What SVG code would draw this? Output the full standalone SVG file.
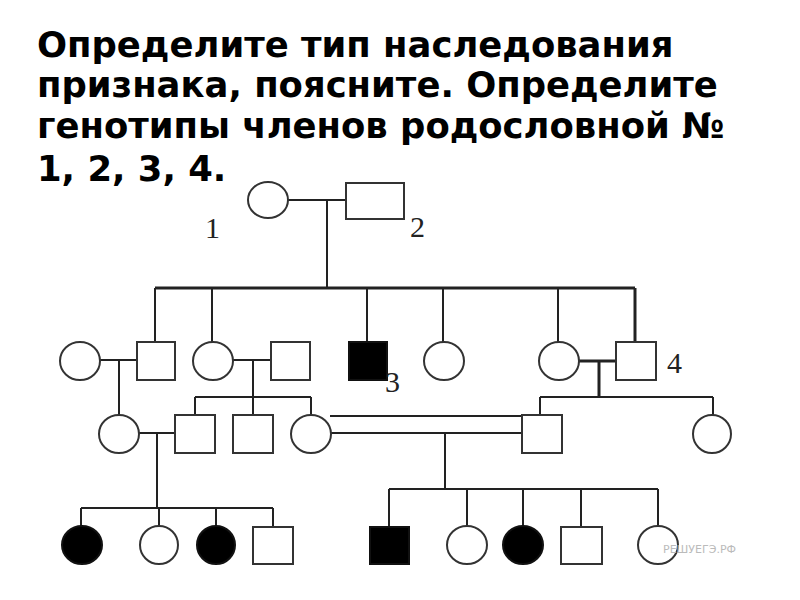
<svg xmlns="http://www.w3.org/2000/svg" width="800" height="600" viewBox="0 0 800 600">
<style>
.title{font-family:"DejaVu Sans",sans-serif;font-weight:bold;font-size:35.4px;fill:#000}
.lbl{font-family:"Liberation Serif",serif;font-size:30px;fill:#222}
.wm{font-family:"DejaVu Sans",sans-serif;font-size:11px;fill:#bbb}
.ln{stroke:#222;stroke-width:2;fill:none}
.thk{stroke:#222;stroke-width:3;fill:none}
.f{fill:#fff;stroke:#333;stroke-width:2}
.a{fill:#000;stroke:#111;stroke-width:2}
</style>
<rect width="800" height="600" fill="#fff"/>
<g id="title">
<text class="title" x="37" y="57">Определите тип наследования</text>
<text class="title" x="37" y="97">признака, поясните. Определите</text>
<text class="title" x="37" y="138">генотипы членов родословной №</text>
<text class="title" x="37" y="181">1, 2, 3, 4.</text>
</g>
<g id="connectors">
<path class="ln" d="M288 200H346M327 200V288"/>
<path class="thk" d="M155 288H635"/>
<path class="ln" d="M155 288V342M212 288V342M367 288V342M443 288V342M558 288V342"/>
<path class="thk" d="M635 288V342"/>
<path class="ln" d="M100 360H137M119 360V415"/>
<path class="ln" d="M233 360H271M253 360V397M195 397H311M195 397V415M253 397V415M311 397V415"/>
<path class="thk" d="M579 361H616M599 361V397"/>
<path class="ln" d="M540 397H713M540 397V415M713 397V415"/>
<path class="ln" d="M139 433H175M157 433V508M81 508H273M81 508V527M159 508V527M216 508V527M273 508V527"/>
<path class="ln" d="M330 416H522M331 433H522M445 433V489"/>
<path class="ln" d="M389 489H658M389 489V527M467 489V527M523 489V527M581 489V527M658 489V527"/>
</g>
<g id="n1"><ellipse class="f" cx="268" cy="200" rx="20" ry="18"/><text class="lbl" x="205" y="238">1</text></g>
<g id="n2"><rect class="f" x="346" y="183" width="58" height="36"/><text class="lbl" x="410" y="237">2</text></g>
<g id="g2a"><ellipse class="f" cx="80" cy="361" rx="20" ry="19"/></g>
<g id="g2b"><rect class="f" x="137" y="342" width="38" height="38"/></g>
<g id="g2c"><ellipse class="f" cx="213" cy="361" rx="20" ry="19"/></g>
<g id="g2d"><rect class="f" x="271" y="342" width="39" height="38"/></g>
<g id="n3"><rect class="a" x="349" y="342" width="38" height="38"/><text class="lbl" x="385" y="392">3</text></g>
<g id="g2e"><ellipse class="f" cx="444" cy="361" rx="20" ry="19"/></g>
<g id="g2f"><ellipse class="f" cx="559" cy="361" rx="20" ry="19"/></g>
<g id="n4"><rect class="f" x="616" y="342" width="40" height="38"/><text class="lbl" x="667" y="373">4</text></g>
<g id="g3a"><ellipse class="f" cx="119" cy="434" rx="20" ry="19"/></g>
<g id="g3b"><rect class="f" x="175" y="415" width="40" height="38"/></g>
<g id="g3c"><rect class="f" x="233" y="415" width="40" height="38"/></g>
<g id="g3d"><ellipse class="f" cx="311" cy="434" rx="20" ry="19"/></g>
<g id="g3e"><rect class="f" x="522" y="415" width="40" height="38"/></g>
<g id="g3f"><ellipse class="f" cx="712" cy="434" rx="19" ry="19"/></g>
<g id="g4a"><ellipse class="a" cx="82" cy="545" rx="20" ry="19"/></g>
<g id="g4b"><ellipse class="f" cx="159" cy="545" rx="19" ry="19"/></g>
<g id="g4c"><ellipse class="a" cx="216" cy="545" rx="19" ry="19"/></g>
<g id="g4d"><rect class="f" x="253" y="527" width="40" height="37"/></g>
<g id="g4e"><rect class="a" x="370" y="527" width="39" height="37"/></g>
<g id="g4f"><ellipse class="f" cx="467" cy="545" rx="20" ry="19"/></g>
<g id="g4g"><ellipse class="a" cx="523" cy="545" rx="20" ry="19"/></g>
<g id="g4h"><rect class="f" x="561" y="527" width="41" height="37"/></g>
<g id="g4i"><ellipse class="f" cx="658" cy="545" rx="20" ry="19"/></g>
<text class="wm" x="663" y="553">РЕШУЕГЭ.РФ</text>
</svg>
